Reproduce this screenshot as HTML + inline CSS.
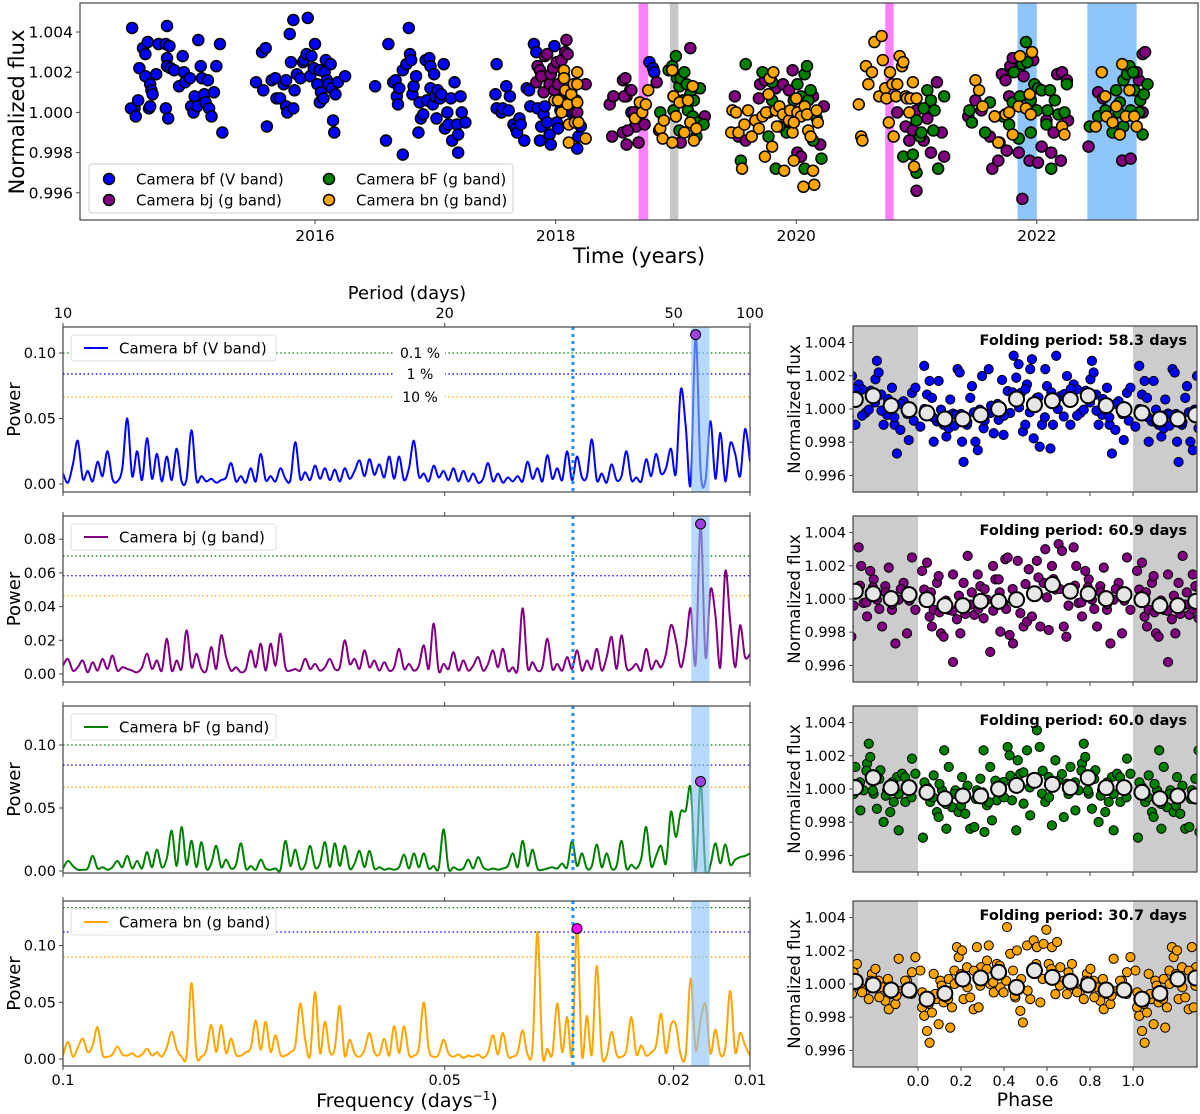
<!DOCTYPE html>
<html><head><meta charset="utf-8">
<style>
body{margin:0;background:#fff}
svg{font-family:"DejaVu Sans","Liberation Sans",sans-serif;display:block}
</style></head>
<body>
<svg id="fig" width="1200" height="1114" viewBox="0 0 1200 1114"></svg>
<script>
// ===================== DATA =====================
// Top light curve: [year, normalized flux]
const lcBf = [[2014.48,1.0042],[2014.77,1.0043],[2014.50,1.0002],[2014.47,1.0002],[2014.51,0.9998],[2014.53,1.0006],[2014.54,1.0022],[2014.57,1.0032],[2014.59,1.0029],[2014.59,1.0018],[2014.61,1.0035],[2014.63,1.0014],[2014.62,1.0002],[2014.63,1.0003],[2014.64,1.0011],[2014.65,1.0009],[2014.68,1.0019],[2014.70,1.0034],[2014.76,1.0034],[2014.77,1.0027],[2014.77,1.0023],[2014.76,1.0002],[2014.78,0.9997],[2014.79,1.0033],[2014.80,1.0022],[2014.83,1.0021],[2014.87,1.0013],[2014.90,1.0028],[2014.91,1.0020],[2014.92,1.0015],[2014.96,1.0017],[2014.97,1.0003],[2014.99,1.0000],[2015.00,1.0008],[2015.02,1.0003],[2015.03,1.0036],[2015.05,1.0023],[2015.06,1.0017],[2015.08,1.0009],[2015.09,1.0005],[2015.11,1.0016],[2015.12,1.0002],[2015.14,0.9998],[2015.16,1.0010],[2015.18,1.0023],[2015.21,1.0034],[2015.23,0.9990],
[2015.51,1.0015],[2015.56,1.0030],[2015.59,1.0032],[2015.57,1.0011],[2015.60,0.9993],[2015.64,1.0016],[2015.67,1.0017],[2015.68,1.0007],[2015.71,1.0007],[2015.74,1.0014],[2015.76,1.0016],[2015.76,1.0003],[2015.77,1.0000],[2015.79,1.0039],[2015.80,1.0025],[2015.82,1.0046],[2015.82,1.0002],[2015.83,1.0011],[2015.85,1.0019],[2015.88,1.0017],[2015.90,1.0025],[2015.91,1.0026],[2015.93,1.0029],[2015.94,1.0047],[2015.96,1.0018],[2015.97,1.0028],[2015.99,1.0022],[2016.00,1.0034],[2016.02,1.0014],[2016.04,1.0021],[2016.04,1.0005],[2016.05,1.0010],[2016.07,1.0007],[2016.08,1.0020],[2016.09,1.0026],[2016.10,1.0016],[2016.11,1.0014],[2016.13,1.0024],[2016.14,1.0012],[2016.15,0.9996],[2016.16,0.9990],[2016.17,1.0009],[2016.19,1.0015],[2016.25,1.0018],
[2016.50,1.0013],[2016.61,1.0034],[2016.59,0.9986],[2016.65,1.0015],[2016.67,1.0016],[2016.68,1.0008],[2016.69,1.0004],[2016.70,1.0012],[2016.73,1.0021],[2016.73,0.9979],[2016.76,1.0024],[2016.78,1.0042],[2016.79,1.0029],[2016.80,1.0026],[2016.81,1.0009],[2016.82,1.0013],[2016.84,1.0018],[2016.86,0.9990],[2016.87,1.0005],[2016.88,0.9997],[2016.90,0.9999],[2016.92,1.0026],[2016.93,1.0006],[2016.95,1.0027],[2016.96,1.0023],[2016.96,1.0012],[2016.98,1.0004],[2016.99,1.0019],[2017.00,1.0008],[2017.01,0.9997],[2017.02,1.0011],[2017.04,1.0007],[2017.05,1.0009],[2017.07,1.0024],[2017.08,0.9992],[2017.10,1.0000],[2017.11,0.9994],[2017.13,1.0007],[2017.14,0.9986],[2017.16,1.0015],[2017.18,0.9994],[2017.19,0.9980],[2017.19,0.9989],[2017.21,1.0008],[2017.22,1.0000],[2017.25,0.9995],
[2017.51,1.0024],[2017.50,1.0009],[2017.51,1.0002],[2017.55,1.0000],[2017.56,1.0002],[2017.59,1.0013],[2017.61,1.0001],[2017.62,1.0008],[2017.65,0.9994],[2017.67,0.9992],[2017.68,0.9990],[2017.70,0.9997],[2017.71,0.9994],[2017.74,0.9986],[2017.76,1.0012],[2017.78,1.0011],[2017.79,1.0003],[2017.82,1.0034],[2017.84,1.0030],[2017.85,1.0002],[2017.87,0.9986],[2017.88,0.9993],[2017.90,0.9999],[2017.91,1.0003],[2017.93,0.9995],[2017.95,0.9989],[2017.96,0.9984],[2017.99,1.0033],[2018.01,0.9995],[2018.02,0.9992],[2018.04,1.0001],[2018.07,1.0009],[2018.13,1.0000],[2018.18,0.9982],[2018.19,0.9988],[2018.21,0.9993],
[2018.78,1.0025],[2018.81,1.0022],[2018.82,1.0020],[2018.66,0.9993],[2018.67,0.9996],[2018.63,1.0000]];
const lcBj = [[2017.84,1.0015],[2017.85,1.0023],[2017.87,1.0021],[2017.88,1.0018],[2017.90,1.0010],[2017.91,1.0028],[2017.93,1.0029],[2017.95,1.0014],[2017.96,1.0019],[2017.98,1.0022],[2017.99,1.0011],[2018.01,1.0025],[2018.02,1.0014],[2018.04,1.0006],[2018.05,1.0026],[2018.07,1.0018],[2018.08,1.0030],[2018.09,1.0036],[2018.10,1.0029],[2018.13,1.0010],[2018.16,1.0000],[2018.18,1.0000],[2018.25,1.0014],[2018.17,1.0006],
[2018.45,1.0004],[2018.48,1.0008],[2018.56,1.0016],[2018.59,1.0008],[2018.62,1.0011],[2018.65,1.0000],[2018.47,0.9988],[2018.56,0.9990],[2018.59,0.9984],[2018.57,1.0008],[2018.58,1.0017],[2018.63,1.0011],[2018.67,0.9993],[2018.69,0.9985],[2018.74,0.9994],[2018.84,1.0015],[2018.86,0.9991],[2019.04,0.9985],[2019.12,1.0032],[2019.24,0.9998],[2018.60,0.9991],
[2019.49,1.0008],[2019.52,0.9988],[2019.58,0.9986],[2019.70,1.0014],[2019.74,1.0016],[2019.83,1.0012],[2019.89,1.0014],[2019.94,1.0011],[2019.97,1.0021],[2020.01,0.9980],[2020.04,0.9978],[2020.14,1.0008],[2020.20,0.9984],[2020.23,1.0003],[2019.69,1.0007],[2019.77,1.0000],
[2020.84,1.0000],[2020.91,0.9993],[2020.97,0.9991],[2021.00,1.0001],[2021.06,0.9986],[2021.12,0.9980],[2021.00,0.9961],[2021.17,1.0015],[2021.21,0.9990],[2021.23,0.9978],[2020.94,0.9986],[2021.09,0.9997],
[2021.43,0.9998],[2021.49,1.0006],[2021.54,1.0001],[2021.63,0.9972],[2021.68,0.9976],[2021.71,1.0019],[2021.74,1.0016],[2021.75,0.9981],[2021.78,1.0023],[2021.80,1.0027],[2021.77,1.0008],[2021.85,0.9980],[2021.88,0.9957],[2021.89,1.0018],[2021.94,0.9976],[2021.97,1.0026],[2022.01,0.9975],[2022.08,0.9996],[2022.12,0.9980],[2022.17,1.0019],[2022.20,0.9976],[2022.21,1.0020],[2022.25,1.0016],[2022.26,0.9996],[2021.61,0.9988],[2022.04,0.9983],[2022.14,0.9990],
[2022.43,0.9983],[2022.51,1.0010],[2022.55,1.0007],[2022.71,0.9976],[2022.78,0.9977],[2022.85,1.0016],[2022.88,1.0029],[2022.90,1.0030],[2022.88,1.0000],[2022.83,1.0020]];
const lcBF = [[2018.87,1.0000],[2018.94,1.0021],[2018.97,1.0023],[2019.00,1.0028],[2019.01,1.0017],[2019.03,1.0013],[2019.04,1.0017],[2019.06,1.0006],[2019.07,1.0020],[2019.09,1.0014],[2019.10,1.0001],[2019.12,1.0009],[2019.14,0.9998],[2019.15,1.0006],[2019.17,0.9988],[2019.18,0.9995],[2019.20,1.0012],[2019.23,0.9994],[2018.98,1.0001],[2019.03,0.9991],
[2019.58,1.0024],[2019.54,0.9976],[2019.72,1.0020],[2019.77,0.9988],[2019.80,1.0006],[2019.83,0.9972],[2019.89,1.0000],[2019.92,0.9990],[2019.95,0.9995],[2019.98,1.0006],[2020.01,1.0014],[2020.04,1.0008],[2020.07,1.0019],[2020.09,1.0023],[2020.10,1.0006],[2020.12,1.0011],[2020.07,0.9972],[2020.14,0.9986],[2020.21,0.9977],[2020.17,0.9997],[2019.80,1.0015],[2019.86,0.9993],
[2020.89,0.9978],[2021.00,0.9970],[2020.97,0.9979],[2021.03,0.9988],[2021.06,1.0002],[2021.09,1.0011],[2021.12,1.0006],[2021.15,1.0001],[2021.18,0.9972],[2021.23,1.0008],[2021.00,0.9996],[2021.14,0.9991],[2021.04,0.9990],
[2021.44,1.0001],[2021.46,0.9995],[2021.57,0.9990],[2021.61,1.0005],[2021.65,0.9998],[2021.69,0.9985],[2021.72,0.9998],[2021.77,0.9994],[2021.80,1.0005],[2021.81,1.0020],[2021.85,0.9987],[2021.88,1.0024],[2021.91,1.0035],[2021.92,1.0025],[2021.95,0.9990],[2021.98,1.0014],[2022.01,1.0012],[2022.04,1.0011],[2022.08,0.9994],[2022.11,1.0011],[2022.12,0.9972],[2022.15,1.0006],[2022.18,0.9999],[2022.23,1.0000],[2022.25,1.0014],[2021.86,1.0008],[2021.95,1.0006],[2022.00,1.0001],[2022.09,1.0001],
[2022.44,0.9993],[2022.51,0.9998],[2022.57,1.0001],[2022.63,0.9990],[2022.66,1.0011],[2022.69,1.0005],[2022.72,1.0016],[2022.75,1.0019],[2022.77,1.0023],[2022.80,1.0020],[2022.81,1.0011],[2022.85,1.0000],[2022.86,1.0006],[2022.88,0.9989],[2022.89,1.0009],[2022.92,1.0014],[2022.78,1.0001],[2022.72,0.9993],[2022.68,1.0000]];
const lcBn = [[2017.99,1.0006],[2018.02,1.0006],[2018.05,1.0000],[2018.07,1.0021],[2018.07,1.0017],[2018.08,1.0011],[2018.10,1.0004],[2018.11,0.9994],[2018.13,1.0009],[2018.15,1.0014],[2018.16,0.9995],[2018.18,1.0014],[2018.18,1.0020],[2018.18,1.0005],[2018.19,0.9995],[2018.25,0.9987],[2018.11,0.9985],
[2018.66,0.9997],[2018.70,1.0005],[2018.72,1.0000],[2018.75,1.0004],[2018.77,1.0011],[2018.87,0.9992],[2018.89,0.9987],[2018.90,0.9996],[2018.97,1.0021],[2018.98,1.0008],[2019.00,0.9998],[2019.03,1.0005],[2019.07,0.9990],[2019.10,1.0006],[2019.12,0.9995],[2019.14,1.0013],[2019.15,0.9986],[2019.17,0.9992],[2018.97,0.9985],
[2019.46,0.9990],[2019.47,1.0001],[2019.50,1.0000],[2019.52,0.9990],[2019.55,0.9972],[2019.57,0.9994],[2019.60,1.0001],[2019.63,0.9988],[2019.66,0.9996],[2019.69,0.9992],[2019.72,0.9998],[2019.74,0.9978],[2019.75,1.0000],[2019.77,1.0009],[2019.78,1.0017],[2019.80,0.9983],[2019.81,1.0020],[2019.83,1.0001],[2019.84,0.9993],[2019.86,1.0003],[2019.89,0.9999],[2019.90,0.9971],[2019.94,0.9996],[2019.95,1.0001],[2019.97,0.9990],[2019.98,0.9976],[2020.00,1.0007],[2020.01,1.0000],[2020.04,0.9998],[2020.06,0.9963],[2020.07,1.0003],[2020.09,0.9999],[2020.10,0.9991],[2020.12,0.9988],[2020.14,0.9971],[2020.15,0.9964],[2020.17,1.0001],[2020.18,0.9995],[2019.98,0.9995],
[2020.52,1.0004],[2020.54,0.9988],[2020.55,0.9986],[2020.58,1.0023],[2020.60,1.0014],[2020.63,1.0020],[2020.65,1.0035],[2020.71,1.0038],[2020.69,1.0008],[2020.72,1.0026],[2020.74,1.0012],[2020.75,1.0007],[2020.77,0.9995],[2020.78,1.0020],[2020.80,1.0014],[2020.81,0.9988],[2020.83,1.0008],[2020.84,1.0014],[2020.86,1.0028],[2020.88,1.0023],[2020.89,1.0025],[2020.91,1.0008],[2020.92,1.0007],[2020.94,1.0000],[2020.95,1.0007],[2020.97,1.0015],[2020.98,0.9973],[2021.00,1.0007],
[2021.49,1.0016],[2021.52,1.0011],[2021.55,1.0003],[2021.65,0.9998],[2021.68,0.9985],[2021.74,0.9999],[2021.80,0.9989],[2021.85,1.0003],[2021.86,1.0028],[2021.91,1.0002],[2021.94,1.0009],[2021.96,1.0030],[2021.95,0.9999],[2021.77,1.0000],[2022.21,0.9993],[2022.23,0.9989],
[2022.49,0.9993],[2022.54,1.0020],[2022.58,0.9998],[2022.63,0.9995],[2022.66,1.0003],[2022.69,0.9989],[2022.71,1.0024],[2022.74,0.9998],[2022.77,1.0011],[2022.81,0.9998],[2022.83,0.9993],[2022.57,1.0008]];
const yearTicks = [2016,2018,2020,2022];
const fluxTicks = [0.996,0.998,1.000,1.002,1.004];
const shadePink = [[2018.69,2018.77],[2020.74,2020.81]];
const shadeGray = [[2018.95,2019.02]];
const shadeBlue = [[2021.84,2022.00],[2022.42,2022.83]];

// Periodograms: power on a frequency grid from 0.1 to 0.01 d^-1 (140 samples)
const freqMax = 0.1, freqMin = 0.01, nFreq = 140;
const powBf = [.008,.001,.015,.033,.004,.010,.002,.017,.006,.025,.004,.002,.012,.050,.006,.025,.003,.035,.004,.023,.002,.021,.003,.027,.002,.004,.041,.003,.006,.002,.004,.001,.003,.005,.016,.002,.006,.001,.012,.002,.023,.003,.006,.002,.012,.004,.003,.032,.004,.009,.003,.014,.004,.012,.003,.011,.002,.012,.004,.010,.018,.006,.019,.007,.015,.005,.021,.004,.021,.003,.012,.033,.006,.008,.002,.014,.005,.010,.003,.012,.002,.010,.002,.008,.001,.004,.016,.002,.008,.001,.005,.002,.006,.002,.017,.004,.012,.002,.022,.004,.012,.003,.025,.003,.021,.005,.006,.034,.003,.008,.001,.015,.003,.006,.025,.003,.005,.002,.019,.006,.023,.008,.012,.027,.008,.072,.044,.000,.114,.010,.003,.048,.004,.039,.002,.031,.023,.006,.042,.017];
const powBj = [.005,.009,.002,.004,.008,.001,.007,.002,.009,.003,.011,.002,.004,.003,.002,.001,.004,.012,.003,.008,.002,.021,.002,.008,.003,.026,.004,.012,.003,.002,.016,.003,.023,.010,.002,.004,.001,.003,.014,.004,.018,.002,.018,.005,.024,.004,.002,.003,.002,.009,.003,.006,.002,.004,.009,.003,.004,.020,.006,.009,.003,.014,.004,.008,.002,.007,.002,.004,.015,.003,.006,.002,.005,.017,.003,.030,.002,.006,.003,.013,.002,.008,.002,.005,.010,.002,.006,.014,.004,.015,.002,.004,.003,.039,.004,.007,.002,.004,.021,.003,.006,.002,.010,.003,.014,.002,.008,.003,.015,.002,.010,.022,.003,.023,.004,.003,.006,.002,.015,.003,.008,.004,.012,.029,.020,.004,.017,.039,.006,.089,.010,.050,.035,.004,.061,.031,.004,.029,.010,.012];
const powBF = [.002,.008,.004,.001,.001,.002,.012,.002,.003,.001,.003,.008,.003,.012,.002,.008,.002,.015,.003,.017,.003,.010,.032,.004,.035,.005,.024,.003,.023,.002,.006,.020,.003,.009,.002,.005,.022,.002,.004,.001,.009,.002,.001,.002,.001,.024,.004,.017,.002,.005,.020,.003,.006,.023,.003,.022,.004,.020,.002,.006,.016,.003,.016,.002,.003,.001,.002,.001,.003,.013,.002,.014,.003,.014,.002,.004,.002,.033,.002,.003,.001,.002,.009,.002,.011,.003,.001,.002,.001,.002,.004,.014,.003,.024,.004,.017,.002,.001,.002,.003,.002,.006,.003,.024,.004,.014,.002,.004,.021,.003,.014,.002,.004,.024,.002,.005,.002,.010,.035,.004,.012,.020,.006,.047,.027,.047,.048,.066,.000,.071,.000,.005,.022,.006,.021,.005,.009,.011,.012,.014];
const powBn = [.003,.015,.002,.010,.018,.006,.012,.028,.004,.002,.004,.011,.004,.003,.005,.002,.004,.009,.003,.006,.002,.010,.024,.009,.002,.003,.067,.004,.002,.008,.030,.006,.030,.005,.018,.004,.003,.006,.010,.034,.008,.033,.006,.021,.004,.003,.006,.012,.049,.017,.003,.059,.005,.033,.006,.010,.047,.003,.017,.005,.002,.008,.023,.006,.004,.018,.003,.029,.005,.029,.004,.003,.010,.050,.009,.002,.004,.017,.005,.002,.004,.001,.003,.002,.004,.001,.006,.021,.004,.023,.003,.002,.006,.025,.004,.010,.112,.005,.009,.004,.049,.006,.037,.004,.115,.003,.038,.004,.082,.005,.003,.024,.004,.002,.008,.037,.004,.012,.003,.006,.012,.040,.005,.030,.030,.003,.004,.071,.008,.034,.048,.005,.026,.004,.010,.060,.006,.023,.012,.003];
const thrBf = [0.100,0.084,0.0665];
const thrBj = [0.070,0.0583,0.0465];
const thrBF = [0.100,0.084,0.0665];
const thrBn = [0.1335,0.112,0.090];
const fapLabels = ['0.1 %','1 %','10 %'];
const freqTicks = [0.1,0.05,0.02,0.01];
const freqTickLabels = ['0.1','0.05','0.02','0.01'];
const periodTickLabels = ['10','20','50','100'];
const halfMonthFreq = 0.0332;
const rotBand = [0.0153,0.0177];

// Phase-folded curves: [phase, flux]
const foldBf = [[0.011,0.99894],[0.029,1.0026],[0.042,1.00087],[0.054,1.00169],[0.065,1.00067],[0.073,0.99803],[0.088,0.99925],[0.096,1.00169],[0.107,0.99996],[0.119,0.99905],[0.132,0.99834],[0.143,0.99884],[0.150,1.00057],[0.163,0.99972],[0.175,0.99965],[0.184,1.0024],[0.194,1.0022],[0.205,0.99803],[0.212,0.99681],[0.228,0.99905],[0.243,1.00067],[0.251,1.00138],[0.267,0.99803],[0.278,0.99752],[0.287,0.99996],[0.298,1.00199],[0.305,0.99884],[0.329,1.0024],[0.336,0.99976],[0.352,0.99854],[0.375,0.99935],[0.391,1.00175],[0.398,0.99844],[0.417,1.00108],[0.429,0.99976],[0.445,1.00321],[0.457,1.00189],[0.468,1.0027],[0.479,1.00097],[0.488,0.99864],[0.499,0.99905],[0.507,1.00148],[0.522,1.0024],[0.530,1.003],[0.538,0.99823],[0.553,1.00067],[0.566,0.99773],[0.577,0.99905],[0.592,1.0024],[0.600,1.00138],[0.616,0.99762],[0.628,0.99905],[0.643,1.00321],[0.662,1.00077],[0.678,0.99955],[0.693,1.00199],[0.709,0.99905],[0.724,1.00148],[0.740,1.00118],[0.755,0.99976],[0.771,0.99996],[0.802,1.00179],[0.809,1.0029],[0.817,1.0022],[0.829,1.00087],[0.840,0.99905],[0.856,0.99965],[0.879,1.00128],[0.891,0.99905],[0.902,0.99732],[0.918,0.99874],[0.933,1.00047],[0.957,0.99813],[0.972,1.00097],[0.988,1.00128],
[0.03,1.0000],[0.07,0.9995],[0.11,0.9992],[0.14,0.9996],[0.17,0.9990],[0.20,0.9997],[0.23,0.9992],[0.26,0.9998],[0.31,0.9993],[0.34,1.0002],[0.37,1.0003],[0.40,0.9996],[0.44,1.0010],[0.47,1.0001],[0.50,1.0012],[0.52,0.9998],[0.56,1.0007],[0.59,0.9995],[0.62,1.0010],[0.65,1.0000],[0.68,1.0009],[0.71,1.0012],[0.74,0.9996],[0.78,1.0011],[0.80,1.0004],[0.83,0.9999],[0.86,1.0006],[0.89,0.9995],[0.92,1.0003],[0.95,0.9997],[0.98,0.9993]];
const foldBj = [[0.019,1.00169],[0.029,1.00057],[0.042,1.00219],[0.054,0.99894],[0.065,0.99834],[0.073,0.99935],[0.088,1.00097],[0.096,1.00138],[0.107,0.99793],[0.119,0.99773],[0.132,0.99986],[0.143,0.99935],[0.163,0.9962],[0.163,1.00148],[0.181,0.99878],[0.197,0.99793],[0.212,1.00097],[0.231,1.0026],[0.243,0.99966],[0.262,0.99905],[0.278,1.00148],[0.290,1.00077],[0.305,0.99884],[0.321,0.99996],[0.336,0.99681],[0.349,1.00199],[0.360,1.00118],[0.375,1.00118],[0.383,0.99803],[0.398,0.99976],[0.406,1.0024],[0.417,1.0025],[0.426,0.99783],[0.442,0.99732],[0.464,1.0023],[0.476,0.99915],[0.491,0.99834],[0.507,0.99864],[0.515,1.00179],[0.530,0.99895],[0.553,1.0023],[0.569,0.99834],[0.584,1.00097],[0.592,1.003],[0.608,0.99813],[0.623,1.00199],[0.639,1.00057],[0.654,1.00331],[0.670,1.0029],[0.678,0.99834],[0.690,0.99773],[0.701,1.00057],[0.724,1.00311],[0.736,1.00199],[0.747,0.99976],[0.763,0.99895],[0.778,1.00169],[0.794,1.00118],[0.809,0.99996],[0.833,0.99834],[0.848,1.00077],[0.864,1.00189],[0.879,0.99935],[0.895,0.99732],[0.910,0.99996],[0.933,1.00097],[0.949,0.99793],[0.972,1.0025],[0.988,0.99935],
[0.03,0.9998],[0.06,1.0004],[0.10,0.9992],[0.13,0.9999],[0.16,0.9993],[0.19,1.0002],[0.22,0.9991],[0.25,1.0004],[0.28,0.9994],[0.31,1.0006],[0.35,0.9993],[0.38,1.0004],[0.41,0.9994],[0.44,1.0006],[0.47,0.9999],[0.50,1.0009],[0.53,1.0004],[0.56,1.0013],[0.60,1.0001],[0.63,1.0012],[0.66,1.0006],[0.70,0.9996],[0.73,1.0008],[0.76,0.9998],[0.79,1.0007],[0.82,0.9994],[0.85,1.0004],[0.88,0.9997],[0.92,1.0006],[0.96,0.9999]];
const foldBF = [[0.023,0.99707],[0.042,1.00012],[0.057,0.99922],[0.073,1.00082],[0.088,0.99861],[0.096,0.99831],[0.112,0.99992],[0.122,1.00233],[0.132,0.99761],[0.143,1.00133],[0.158,0.99891],[0.174,0.99992],[0.189,0.99861],[0.205,1.00072],[0.220,0.99851],[0.243,0.99761],[0.262,0.99771],[0.274,0.99992],[0.290,1.00062],[0.305,1.00233],[0.309,0.99741],[0.321,0.99902],[0.336,1.00133],[0.344,0.99811],[0.367,0.99932],[0.383,1.00012],[0.398,1.00042],[0.417,1.00253],[0.426,1.00203],[0.437,0.99932],[0.457,0.99751],[0.464,1.00173],[0.476,1.00092],[0.491,0.99912],[0.507,1.00233],[0.522,0.99841],[0.538,1.00052],[0.553,1.00354],[0.566,1.00253],[0.577,0.99972],[0.592,0.99922],[0.608,1.00072],[0.623,0.99781],[0.639,1.00173],[0.654,1.00052],[0.678,0.99831],[0.693,1.00032],[0.709,1.00133],[0.732,0.99871],[0.747,0.99992],[0.763,1.00153],[0.771,1.00273],[0.778,1.00193],[0.794,0.99972],[0.809,0.99881],[0.825,1.00113],[0.840,0.99801],[0.856,0.99992],[0.871,0.99861],[0.887,0.99922],[0.902,1.00072],[0.910,0.99751],[0.926,1.00092],[0.941,0.99922],[0.957,0.99992],[0.972,1.00183],[0.988,1.00092],
[0.03,1.0004],[0.07,0.9995],[0.10,1.0003],[0.13,0.9991],[0.17,0.9997],[0.20,0.9990],[0.23,1.0002],[0.27,0.9994],[0.30,0.9998],[0.33,0.9992],[0.36,1.0005],[0.40,0.9995],[0.43,1.0008],[0.46,1.0002],[0.49,1.0010],[0.52,1.0001],[0.55,1.0006],[0.58,1.0011],[0.61,0.9995],[0.64,1.0003],[0.67,1.0009],[0.70,0.9997],[0.73,1.0004],[0.76,1.0011],[0.79,0.9999],[0.82,1.0006],[0.85,0.9996],[0.88,1.0004],[0.91,0.9997],[0.94,1.0007],[0.97,0.9995]];
const foldBn = [[0.011,1.00081],[0.019,0.99859],[0.029,0.99808],[0.042,0.99717],[0.054,0.99646],[0.065,0.99828],[0.073,1.00061],[0.085,0.99909],[0.096,0.99758],[0.104,1.0002],[0.119,0.99889],[0.143,1.0003],[0.150,0.99737],[0.158,0.99859],[0.169,1.00081],[0.181,1.00222],[0.189,1.00162],[0.205,1.00202],[0.212,0.99909],[0.228,1.00101],[0.243,0.99919],[0.259,0.99848],[0.274,1.00222],[0.282,0.99859],[0.293,1.00101],[0.305,1.0004],[0.321,1.00141],[0.329,1.00232],[0.336,1.0],[0.352,0.99949],[0.367,1.00121],[0.383,0.9998],[0.398,0.99949],[0.414,1.00343],[0.429,1.00182],[0.442,1.00081],[0.453,0.99919],[0.460,1.00202],[0.476,0.99838],[0.488,0.99768],[0.507,1.00232],[0.522,0.99909],[0.538,1.00263],[0.553,1.00222],[0.569,0.99889],[0.584,1.00242],[0.597,1.00327],[0.608,1.00121],[0.623,1.00222],[0.639,0.99939],[0.647,1.00253],[0.662,1.00101],[0.678,1.0002],[0.693,0.99939],[0.716,1.00121],[0.732,0.9998],[0.755,0.9996],[0.771,0.99909],[0.786,1.00061],[0.802,1.00091],[0.817,1.0002],[0.833,0.9998],[0.848,0.99899],[0.864,0.99848],[0.879,0.99939],[0.895,0.99879],[0.910,1.00152],[0.926,0.9996],[0.949,1.0002],[0.972,1.00071],[0.988,1.00162],
[0.02,0.9995],[0.05,0.9988],[0.08,0.9994],[0.11,0.9999],[0.14,0.9991],[0.17,1.0000],[0.20,1.0006],[0.23,0.9998],[0.26,1.0008],[0.29,0.9999],[0.32,1.0009],[0.35,1.0001],[0.38,1.0011],[0.41,1.0002],[0.45,0.9993],[0.48,1.0003],[0.51,0.9996],[0.55,1.0012],[0.58,1.0003],[0.62,1.0009],[0.66,0.9999],[0.70,1.0007],[0.74,0.9995],[0.78,1.0002],[0.82,0.9992],[0.86,1.0003],[0.90,0.9993],[0.94,1.0002],[0.97,0.9994]];
const binBf = [0.99976,0.9994,0.9994,0.99965,1.0,1.0006,1.00026,1.0005,1.00057,1.0008,1.0002,0.99996];
const binBj = [0.99996,0.9996,0.9996,0.99986,0.99986,0.99996,1.00032,1.00087,1.00047,1.00032,1.00002,1.00026];
const binBF = [0.9998,0.99942,0.99958,0.99958,1.0,1.00022,1.00052,1.00028,1.00008,1.00068,1.00008,1.00008];
const binBn = [0.99909,0.99943,1.0003,1.00036,1.00071,0.9998,1.00081,1.0004,1.00016,0.99994,0.99964,0.99964];
const foldPeriods = ['58.3','60.9','60.0','30.7'];
const phaseTicks = [0,0.2,0.4,0.6,0.8,1.0];

// ===================== HELPERS =====================
const NS='http://www.w3.org/2000/svg';
const svg=document.getElementById('fig');
function mk(tag,attrs,parent){const e=document.createElementNS(NS,tag);for(const k in attrs)e.setAttribute(k,attrs[k]);(parent||svg).appendChild(e);return e;}
function txt(x,y,s,size,anchor,parent,weight){const t=mk('text',{x:x,y:y,'font-size':size,'text-anchor':anchor||'start',fill:'#000'},parent);if(weight)t.setAttribute('font-weight',weight);t.textContent=s;return t;}
let clipId=0;
function clipRect(x,y,w,h){const id='c'+(clipId++);const cp=mk('clipPath',{id:id});mk('rect',{x:x,y:y,width:w,height:h},cp);return 'url(#'+id+')';}
function smoothPath(pts){let d='M'+pts[0][0].toFixed(2)+','+pts[0][1].toFixed(2);
for(let i=0;i<pts.length-1;i++){const p0=pts[Math.max(0,i-1)],p1=pts[i],p2=pts[i+1],p3=pts[Math.min(pts.length-1,i+2)];
const c1x=p1[0]+(p2[0]-p0[0])/6,c1y=p1[1]+(p2[1]-p0[1])/6,c2x=p2[0]-(p3[0]-p1[0])/6,c2y=p2[1]-(p3[1]-p1[1])/6;
d+='C'+c1x.toFixed(2)+','+c1y.toFixed(2)+' '+c2x.toFixed(2)+','+c2y.toFixed(2)+' '+p2[0].toFixed(2)+','+p2[1].toFixed(2);}
return d;}

// ===================== TOP PANEL =====================
const T={l:80,r:1198,t:3,b:220};
const xT=yr=>315+(yr-2016)*120.3;
const yT=f=>32+(1.004-f)/0.001*20.1;
const gTop=mk('g',{});


const topClip=clipRect(T.l,T.t,T.r-T.l,T.b-T.t);
const gTopData=mk('g',{'clip-path':topClip},gTop);
function bands(list,color,name){list.forEach(b=>{const r=mk('rect',{x:xT(b[0]),y:T.t,width:xT(b[1])-xT(b[0]),height:T.b-T.t,fill:color},gTopData);

});}
bands(shadePink,'#ff80ff','pink-epoch-band');
bands(shadeGray,'#c8c8c8','gray-epoch-band');
bands(shadeBlue,'#8ec5fb','blue-epoch-band');
function lcSeries(data,color,name){const g=mk('g',{},gTopData);


data.forEach(p=>{const c=mk('circle',{cx:xT(p[0]),cy:yT(p[1]),r:5.5,fill:color,stroke:'#000','stroke-width':1.5},g);

});}
lcSeries(lcBf,'#0000ff','camera-bf-points');
lcSeries(lcBj,'#800080','camera-bj-points');
lcSeries(lcBF,'#008000','camera-bF-points');
lcSeries(lcBn,'#ffa500','camera-bn-points');
mk('rect',{x:T.l,y:T.t,width:T.r-T.l,height:T.b-T.t,fill:'none',stroke:'#444','stroke-width':1.2},gTop);
fluxTicks.forEach(v=>{const y=yT(v);mk('line',{x1:T.l-4,x2:T.l,y1:y,y2:y,stroke:'#444'},gTop);const t=txt(T.l-7,y+5.5,v.toFixed(3),15.5,'end',gTop);

});
yearTicks.forEach(v=>{const x=xT(v);mk('line',{x1:x,x2:x,y1:T.b,y2:T.b+4,stroke:'#444'},gTop);const t=txt(x,T.b+21,String(v),15.5,'middle',gTop);

});
const tx=txt(639,263,'Time (years)',21,'middle',gTop);


const ty=txt(0,0,'Normalized flux',21,'middle',gTop);ty.setAttribute('transform','translate(24,112) rotate(-90)');


const gLeg=mk('g',{},gTop);


mk('rect',{x:89,y:164,width:424,height:49,fill:'#fff',stroke:'#ccc',rx:3,'fill-opacity':0.85},gLeg);
[[109,179,'#0000ff','Camera bf (V band)'],[109,200,'#800080','Camera bj (g band)'],[329,179,'#008000','Camera bF (g band)'],[329,200,'#ffa500','Camera bn (g band)']].forEach(e=>{
const g=mk('g',{},gLeg);


mk('circle',{cx:e[0],cy:e[1],r:5.5,fill:e[2],stroke:'#000','stroke-width':1.5},g);txt(e[0]+27,e[1]+5.5,e[3],15,'start',g);});

// ===================== PERIODOGRAMS =====================
const xF=f=>63+(freqMax-f)/(freqMax-freqMin)*687;
const freqAt=i=>freqMax-i*(freqMax-freqMin)/(nFreq-1);
const PG=[
{top:327,bot:492,y0:484,k:1310,ticks:[0,0.05,0.10],thr:thrBf,pow:powBf,color:'#0000ff',label:'Camera bf (V band)',mc:'#a040e0',name:'periodogram-bf'},
{top:516,bot:682,y0:674,k:1685,ticks:[0,0.02,0.04,0.06,0.08],thr:thrBj,pow:powBj,color:'#800080',label:'Camera bj (g band)',mc:'#a040e0',name:'periodogram-bj'},
{top:706,bot:873,y0:871,k:1260,ticks:[0,0.05,0.10],thr:thrBF,pow:powBF,color:'#008000',label:'Camera bF (g band)',mc:'#a040e0',name:'periodogram-bF'},
{top:901,bot:1066,y0:1059,k:1134,ticks:[0,0.05,0.10],thr:thrBn,pow:powBn,color:'#ffa500',label:'Camera bn (g band)',mc:'#ff00ff',name:'periodogram-bn'}];
const thrColors=['#008000','#0000ff','#ffa500'];
const L=63,R=750;
PG.forEach((P,pi)=>{
const g=mk('g',{});


const yP=p=>P.y0-p*P.k;
const gd=mk('g',{'clip-path':clipRect(L,P.top,R-L,P.bot-P.top)},g);
P.thr.forEach((v,i)=>{const ln=mk('line',{x1:L,x2:R,y1:yP(v),y2:yP(v),stroke:thrColors[i],'stroke-width':1.3,'stroke-dasharray':'1.5,2.6'},gd);

});
if(pi===0){P.thr.forEach((v,i)=>{mk('rect',{x:393,y:yP(v)-8,width:52,height:16,fill:'#fff'},gd);const t=txt(420,yP(v)+5,fapLabels[i],14,'middle',gd);

});}
const pts=P.pow.map((p,i)=>[xF(freqAt(i)),yP(Math.max(0,p))]);
const cv=mk('path',{d:smoothPath(pts),fill:'none',stroke:P.color,'stroke-width':2,'stroke-linejoin':'round'},gd);


const bd=mk('rect',{x:xF(rotBand[1]),y:P.top,width:xF(rotBand[0])-xF(rotBand[1]),height:P.bot-P.top,fill:'#87c1fa','fill-opacity':0.6},gd);


const vl=mk('line',{x1:xF(halfMonthFreq),x2:xF(halfMonthFreq),y1:P.top,y2:P.bot,stroke:'#1e90ff','stroke-width':3,'stroke-dasharray':'3,4'},gd);


let mi=0;P.pow.forEach((p,i)=>{if(p>P.pow[mi])mi=i;});
const pk=mk('circle',{cx:xF(freqAt(mi)),cy:yP(P.pow[mi]),r:5,fill:P.mc,stroke:'#000','stroke-width':1},g);


mk('rect',{x:L,y:P.top,width:R-L,height:P.bot-P.top,fill:'none',stroke:'#444','stroke-width':1.2},g);
P.ticks.forEach(v=>{const y=yP(v);mk('line',{x1:L-4,x2:L,y1:y,y2:y,stroke:'#444'},g);const t=txt(L-7,y+5,v.toFixed(2),14.5,'end',g);

});
freqTicks.forEach(f=>{const x=xF(f);mk('line',{x1:x,x2:x,y1:P.bot,y2:P.bot+4,stroke:'#444'},g);mk('line',{x1:x,x2:x,y1:P.top-4,y2:P.top,stroke:'#444'},g);});
const pw=txt(0,0,'Power',18,'middle',g);pw.setAttribute('transform','translate(20,'+((P.top+P.bot)/2)+') rotate(-90)');


const lg=mk('g',{},g);


mk('rect',{x:71,y:P.top+8,width:205,height:26,fill:'#fff',stroke:'#ddd',rx:3,'fill-opacity':0.9},lg);
mk('line',{x1:84,x2:108,y1:P.top+21,y2:P.top+21,stroke:P.color,'stroke-width':2},lg);
txt(119,P.top+26.5,P.label,15,'start',lg);
if(pi===0){freqTicks.forEach((f,i)=>{const t=txt(xF(f),P.top-9,periodTickLabels[i],14.5,'middle',g);

});
const pt=txt(407,299,'Period (days)',18,'middle',g);

}
if(pi===3){freqTicks.forEach((f,i)=>{const t=txt(xF(f),P.bot+19,freqTickLabels[i],14.5,'middle',g);

});
const ft=txt(407,1107,'Frequency (days',19,'middle',g);
ft.innerHTML='Frequency (days<tspan dy="-7" font-size="12">−1</tspan><tspan dy="7">)</tspan>';

}
});

// ===================== PHASE PANELS =====================
const PL=853,PR=1197,xPh=ph=>918+ph*215;
const PH=[{top:326,data:foldBf,bins:binBf,color:'#0000ff',name:'folded-bf'},{top:516,data:foldBj,bins:binBj,color:'#800080',name:'folded-bj'},{top:706,data:foldBF,bins:binBF,color:'#008000',name:'folded-bF'},{top:901,data:foldBn,bins:binBn,color:'#ffa500',name:'folded-bn'}];
PH.forEach((P,pi)=>{
const bot=P.top+166;
const yPh=f=>P.top+(1.005-f)/0.001*16.6;
const g=mk('g',{});


const gd=mk('g',{'clip-path':clipRect(PL,P.top,PR-PL,166)},g);
mk('rect',{x:PL,y:P.top,width:xPh(0)-PL,height:166,fill:'#cccccc'},gd);
mk('rect',{x:xPh(1),y:P.top,width:PR-xPh(1),height:166,fill:'#cccccc'},gd);
const copies=[];P.data.forEach(p=>{[-1,0,1].forEach(s=>{const ph=p[0]+s;if(ph>-0.33&&ph<1.33)copies.push([ph,p[1]]);});});
copies.forEach(p=>{mk('line',{x1:xPh(p[0]),x2:xPh(p[0]),y1:yPh(p[1]+0.0003),y2:yPh(p[1]-0.0003),stroke:P.color,'stroke-width':2},gd);});
copies.forEach(p=>{const c=mk('circle',{cx:xPh(p[0]),cy:yPh(p[1]),r:4.6,fill:P.color,stroke:'#000','stroke-width':1},gd);

});
P.bins.forEach((v,k)=>{[-1,0,1].forEach(s=>{const ph=(k+0.5)/12+s;if(ph>-0.35&&ph<1.35){const c=mk('circle',{cx:xPh(ph),cy:yPh(v),r:7.5,fill:'#e6e6e6',stroke:'#000','stroke-width':2},gd);

}});});
mk('rect',{x:PL,y:P.top,width:PR-PL,height:166,fill:'none',stroke:'#444','stroke-width':1.2},g);
fluxTicks.forEach(v=>{const y=yPh(v);mk('line',{x1:PL-4,x2:PL,y1:y,y2:y,stroke:'#444'},g);const t=txt(PL-7,y+5,v.toFixed(3),14.5,'end',g);

});
phaseTicks.forEach(v=>{const x=xPh(v);mk('line',{x1:x,x2:x,y1:bot,y2:bot+4,stroke:'#444'},g);
if(pi===3){const t=txt(x,bot+19,v.toFixed(1),14.5,'middle',g);

}});
const tt=txt(1187,P.top+19,'Folding period: '+foldPeriods[pi]+' days',14.5,'end',g,'bold');


const yl=txt(0,0,'Normalized flux',16.5,'middle',g);yl.setAttribute('transform','translate(800,'+(P.top+83)+') rotate(-90)');


});
const phT=txt(1025,1106,'Phase',19,'middle');


</script>
</body></html>
